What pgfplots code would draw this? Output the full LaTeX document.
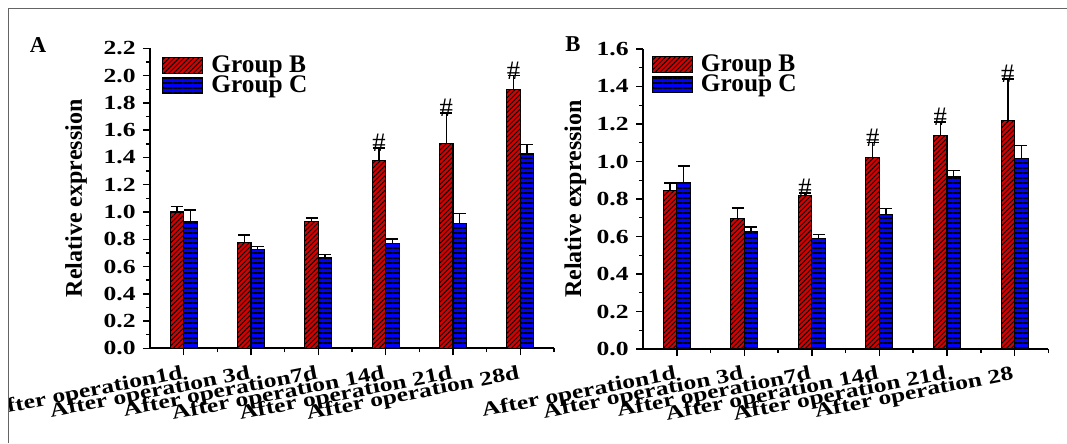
\documentclass[border=0pt]{standalone}
\usepackage{fontspec}
\setmainfont{Liberation Serif}[FakeStretch=1.28]
\newfontfamily\plainserif{Liberation Serif}
\usepackage{pgfplots}
\pgfplotsset{compat=1.18}
\usetikzlibrary{patterns.meta}
\definecolor{barred}{RGB}{215,0,0}
\definecolor{barblue}{RGB}{0,0,255}
\definecolor{framegray}{RGB}{100,100,100}

\tikzset{
  hash/.style={font=\plainserif\fontsize{20}{20}\selectfont, anchor=south, inner sep=0pt, yshift=-3pt},
}
\pgfplotsset{
  myaxis/.style={
    scale only axis, width=303pt, height=225pt, anchor=south west,
    axis x line*=bottom, axis y line*=left,
    xmin=-0.5, xmax=5.5, ymin=0,
    xtick={0,1,2,3,4,5},
    minor xtick={0.5,1.5,2.5,3.5,4.5,5.5},
    minor y tick num=1,
    tick align=outside,
    major tick length=5.25pt, minor tick length=3pt,
    every tick/.style={black, line width=1.1pt},
    axis line style={line width=1.5pt},
    /pgf/number format/assume math mode=true,
    ticklabel style={font=\fontsize{15}{17}\selectfont\bfseries},
    yticklabel style={xshift=-2pt, /pgf/number format/.cd, fixed, fixed zerofill, precision=1},
    xticklabel style={rotate=11, anchor=north east, yshift=-3pt},
    ylabel style={font=\plainserif\fontsize{18}{20}\selectfont\bfseries},
    ylabel={Relative expression},
    ybar, bar width=0.2,
    legend image code/.code={\draw[#1] (0pt,-6pt) rectangle (30pt,6pt); \path (34pt,0pt);},
    legend style={draw=none, fill=none, font=\plainserif\fontsize{19}{21}\selectfont\bfseries,
      anchor=north west, row sep=-3pt, inner sep=0pt},
    legend cell align=left,
    error bars/y dir=plus, error bars/y explicit,
    error bars/error bar style={line width=1.1pt, black, solid},
    error bars/error mark options={line width=1.1pt, black, mark size=4.5pt, rotate=90},
  },
  redbar/.style={fill=barred, draw=black, line width=0.8pt, bar shift=-0.1,
    postaction={pattern={Lines[angle=45,distance=2.6pt,line width=0.7pt]}, pattern color=black}},
  bluebar/.style={fill=barblue, draw=black, line width=0.8pt, bar shift=0.1,
    postaction={pattern={Lines[angle=0,distance=3.75pt,line width=0.8pt]}, pattern color=black}},
}

\begin{document}
\begin{tikzpicture}[x=0.75pt, y=0.75pt]
\useasboundingbox (0,0) rectangle (1067,443);
\draw[framegray, line width=1.2pt] (8.5,0) -- (8.5,434.5) -- (1067,434.5);
\node[font=\plainserif\fontsize{17}{17}\selectfont\bfseries] at (38,398) {A};
\node[font=\plainserif\fontsize{17}{17}\selectfont\bfseries] at (573,399) {B};

\begin{scope}
\clip (9.5,0) rectangle (1067,433.5);
\begin{axis}[myaxis, at={(112.5pt,71pt)}, ymax=2.2, ytick={0,0.2,...,2.21},
  ylabel style={at={(axis description cs:-0.183,0.5)}, anchor=center},
  xticklabels={After operation1d, After operation 3d, After operation7d, After operation 14d, After operation 21d, After operation 28d},
  legend style={at={(axis description cs:0.03,0.985)}}]
\addplot[redbar] coordinates {(0,1.00) +- (0,0.04) (1,0.775) +- (0,0.055) (2,0.93) +- (0,0.025) (3,1.38) +- (0,0.09) (4,1.505) +- (0,0.22) (5,1.895) +- (0,0.105)};
\addplot[bluebar] coordinates {(0,0.93) +- (0,0.085) (1,0.725) +- (0,0.02) (2,0.663) +- (0,0.025) (3,0.77) +- (0,0.032) (4,0.917) +- (0,0.07) (5,1.425) +- (0,0.07)};
\legend{Group B, Group C}
\node[hash] at (axis cs:2.9,1.47) {\#};
\node[hash] at (axis cs:3.9,1.725) {\#};
\node[hash] at (axis cs:4.9,2.0) {\#};
\end{axis}
\end{scope}

\begin{axis}[myaxis, at={(482.25pt,70.5pt)}, width=304pt, ymax=1.6, ytick={0,0.2,...,1.61},
  ylabel style={at={(axis description cs:-0.167,0.5)}, anchor=center},
  xticklabels={After operation1d, After operation 3d, After operation7d, After operation 14d, After operation 21d, After operation 28},
  legend style={at={(axis description cs:0.021,0.99)}}]
\addplot[redbar] coordinates {(0,0.846) +- (0,0.04) (1,0.697) +- (0,0.055) (2,0.818) +- (0,0.015) (3,1.02) +- (0,0.08) (4,1.141) +- (0,0.07) (5,1.221) +- (0,0.22)};
\addplot[bluebar] coordinates {(0,0.887) +- (0,0.09) (1,0.629) +- (0,0.022) (2,0.587) +- (0,0.025) (3,0.718) +- (0,0.032) (4,0.919) +- (0,0.032) (5,1.015) +- (0,0.071)};
\legend{Group B, Group C}
\node[hash] at (axis cs:1.9,0.833) {\#};
\node[hash] at (axis cs:2.9,1.10) {\#};
\node[hash] at (axis cs:3.9,1.21) {\#};
\node[hash] at (axis cs:4.9,1.44) {\#};
\end{axis}
\end{tikzpicture}
\end{document}
